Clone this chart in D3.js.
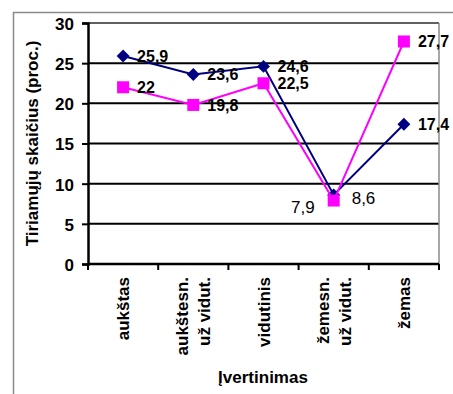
<!DOCTYPE html>
<html>
<head>
<meta charset="utf-8">
<script src="https://cdn.jsdelivr.net/npm/d3@7/dist/d3.min.js"></script>
<style>
  html, body { margin: 0; padding: 0; background: #fff; }
  svg { display: block; font-family: "Liberation Sans", Arial, sans-serif; }
</style>
</head>
<body>
<svg id="chart" width="453" height="394"></svg>
<script>
// Vertinimo kategorijos (eilutės skiriamos "\n")
const categories = ["aukštas", "aukštesn.\nuž vidut.", "vidutinis", "žemesn.\nuž vidut.", "žemas"];
// Dvi duomenų serijos, proc.
const seriesA = [25.9, 23.6, 24.6, 8.6, 17.4];
const seriesB = [22, 19.8, 22.5, 7.9, 27.7];
const yTicks = [0, 5, 10, 15, 20, 25, 30];
const yTitle = "Tiriamųjų skaičius (proc.)";
const xTitle = "Įvertinimas";

const svg = d3.select("#chart");
const plot = { left: 88, right: 439, top: 23, bottom: 264 };

const x = d3.scaleBand().domain(categories).range([plot.left, plot.right]);
const y = d3.scaleLinear().domain([0, 30]).range([plot.bottom, plot.top]);
const cx = c => x(c) + x.bandwidth() / 2;
const fmt = v => String(v).replace(".", ",");

// outer chart frame
svg.append("path")
  .attr("d", "M13.5,394 V12.5 H453")
  .attr("fill", "none").attr("stroke", "#8a8a8a").attr("stroke-width", 1.5);

// gridlines
svg.append("g").selectAll("line")
  .data(yTicks.filter(t => t > 0))
  .join("line")
  .attr("x1", plot.left).attr("x2", plot.right)
  .attr("y1", d => y(d)).attr("y2", d => y(d))
  .attr("stroke", d => d === 30 ? "#606060" : "#000")
  .attr("stroke-width", 2);

// plot-area right border
svg.append("line")
  .attr("x1", plot.right).attr("x2", plot.right)
  .attr("y1", y(30)).attr("y2", y(0))
  .attr("stroke", "#8a8a8a").attr("stroke-width", 1.5);

// y axis
const yAxis = d3.axisLeft(y).tickValues(yTicks).tickSize(6).tickPadding(8).tickFormat(d => d);
const gy = svg.append("g").attr("transform", `translate(${plot.left},0)`).call(yAxis);
gy.select(".domain").attr("stroke", "#000").attr("stroke-width", 2.5);
gy.selectAll(".tick line").attr("stroke", "#000").attr("stroke-width", 2);
gy.selectAll(".tick text")
  .attr("font-family", "'Liberation Sans', Arial, sans-serif")
  .attr("font-size", 17).attr("font-weight", "bold").attr("fill", "#000")
  .attr("dy", "0.38em");

// x axis with ticks at category boundaries
svg.append("line")
  .attr("x1", plot.left).attr("x2", plot.right)
  .attr("y1", y(0)).attr("y2", y(0))
  .attr("stroke", "#000").attr("stroke-width", 2.5);
const bounds = categories.map(c => x(c)).concat([plot.right]);
svg.append("g").selectAll("line")
  .data(bounds).join("line")
  .attr("x1", d => d).attr("x2", d => d)
  .attr("y1", y(0)).attr("y2", y(0) + 6)
  .attr("stroke", "#000").attr("stroke-width", 2);

// rotated category labels
const lineGap = 22;
categories.forEach(c => {
  const lines = c.split("\n");
  lines.forEach((ln, i) => {
    const bx = cx(c) + 6 + (i - (lines.length - 1) / 2) * lineGap;
    svg.append("text")
      .attr("transform", `translate(${bx},277) rotate(-90)`)
      .attr("text-anchor", "end")
      .attr("font-size", 17).attr("font-weight", "bold")
      .text(ln);
  });
});

// axis titles
svg.append("text")
  .attr("transform", `translate(38,${(plot.top + plot.bottom) / 2}) rotate(-90)`)
  .attr("text-anchor", "middle")
  .attr("font-size", 17).attr("font-weight", "bold")
  .text(yTitle);
svg.append("text")
  .attr("x", (plot.left + plot.right) / 2 - 0.5).attr("y", 383)
  .attr("text-anchor", "middle")
  .attr("font-size", 17).attr("font-weight", "bold")
  .text(xTitle);

// series lines
const line = d3.line().x((d, i) => cx(categories[i])).y(d => y(d));
svg.append("path").datum(seriesA)
  .attr("d", line).attr("fill", "none").attr("stroke", "#000080").attr("stroke-width", 2);
// diamond markers: a square turned by 45°
svg.append("g").selectAll("path")
  .data(seriesA).join("path")
  .attr("d", d3.symbol(d3.symbolSquare, 84)())
  .attr("transform", (d, i) => `translate(${cx(categories[i])},${y(d)}) rotate(45)`)
  .attr("fill", "#000080");

svg.append("path").datum(seriesB)
  .attr("d", line).attr("fill", "none").attr("stroke", "#ff00ff").attr("stroke-width", 2);
svg.append("g").selectAll("rect")
  .data(seriesB).join("rect")
  .attr("x", (d, i) => cx(categories[i]) - 6).attr("y", d => y(d) - 6)
  .attr("width", 12).attr("height", 12)
  .attr("fill", "#ff00ff");

// value labels: where the two series nearly meet, the lower value goes left in regular weight
function addLabels(values, other) {
  values.forEach((v, i) => {
    const close = Math.abs(v - other[i]) < 1.5;
    const px = cx(categories[i]);
    const t = svg.append("text")
      .attr("font-size", close ? 17 : 16)
      .attr("font-weight", close ? "normal" : "bold")
      .attr("fill", "#000")
      .text(fmt(v));
    if (close && v < other[i]) {
      t.attr("x", px - 19).attr("y", y(v) + 12).attr("text-anchor", "end");
    } else if (close) {
      t.attr("x", px + 18).attr("y", y(v) + 9);
    } else {
      t.attr("x", px + 14).attr("y", y(v) + 6);
    }
  });
}
addLabels(seriesA, seriesB);
addLabels(seriesB, seriesA);
</script>
</body>
</html>
